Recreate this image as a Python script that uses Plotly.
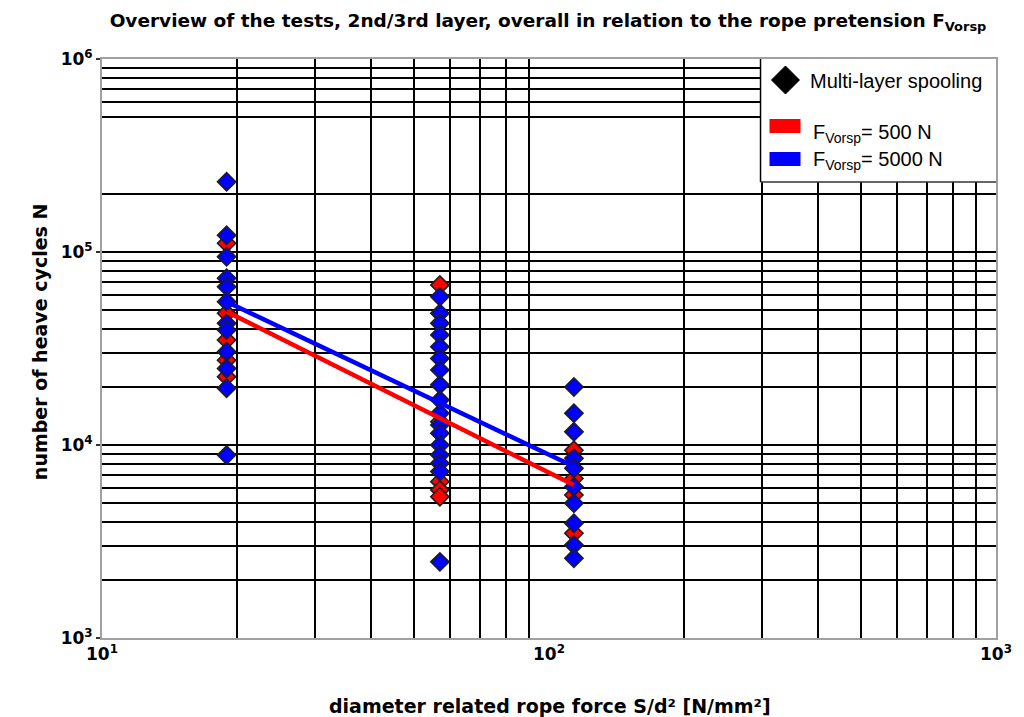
import plotly.graph_objects as go

# Diameter related rope force S/d^2 [N/mm^2] of the three load levels
sd2_levels = [19.0, 57.0, 113.7]

# Heave cycles to failure, pretension 5000 N (one list per load level)
cycles_5000_low = [231000, 122000, 94600, 73100, 66000, 55200, 42700, 39400,
                   30400, 24900, 19700, 8870]
cycles_5000_mid = [58600, 48100, 42700, 37200, 32300, 28100, 24500, 20500,
                   17100, 14600, 12700, 11500, 10000, 8870, 8040, 7280, 2480]
cycles_5000_high = [20000, 14600, 11700, 8530, 7570, 6080, 4990, 3930, 3030, 2590]

# Heave cycles to failure, pretension 500 N
cycles_500_low = [111000, 48100, 35000, 27500, 22600]
cycles_500_mid = [67400, 13200, 6460, 5850, 5400]
cycles_500_high = [9400, 6710, 5510, 3490]

# Regression lines (log-log) for both pretensions
fit_sd2 = [19.0, 113.7]
fit_500 = [49100, 6200]
fit_5000 = [55200, 7730]

title_text = ("Overview of the tests, 2nd/3rd layer, overall in relation to the "
              "rope pretension F<sub>Vorsp</sub>")
x_title = "diameter related rope force S/d² [N/mm²]"
y_title = "number of heave cycles N"
x_tick_vals = [10, 100, 1000]
x_tick_text = ["10<sup>1</sup>", "10<sup>2</sup>", "10<sup>3</sup>"]
y_tick_vals = [1e3, 1e4, 1e5, 1e6]
y_tick_text = ["10<sup>3</sup>", "10<sup>4</sup>", "10<sup>5</sup>", "10<sup>6</sup>"]
legend_labels = ["Multi-layer spooling", "F<sub>Vorsp</sub>= 500 N",
                 "F<sub>Vorsp</sub>= 5000 N"]


def stack(groups):
    xs, ys = [], []
    for lvl, vals in zip(sd2_levels, groups):
        xs += [lvl] * len(vals)
        ys += vals
    return xs, ys


x500, y500 = stack([cycles_500_low, cycles_500_mid, cycles_500_high])
x5000, y5000 = stack([cycles_5000_low, cycles_5000_mid, cycles_5000_high])

RED = "#ff0000"
BLUE = "#0000ff"
marker_line = dict(color="#1e1e1e", width=1.6)

fig = go.Figure()
fig.add_trace(go.Scatter(x=x500, y=y500, mode="markers",
                         marker=dict(symbol="diamond", size=14, color=RED, line=marker_line)))
fig.add_trace(go.Scatter(x=x5000, y=y5000, mode="markers",
                         marker=dict(symbol="diamond", size=14, color=BLUE, line=marker_line)))
fig.add_trace(go.Scatter(x=fit_sd2, y=fit_500, mode="lines",
                         line=dict(color=RED, width=4.5)))
fig.add_trace(go.Scatter(x=fit_sd2, y=fit_5000, mode="lines",
                         line=dict(color=BLUE, width=4.5)))

# grid lines: every decade step, a few are left out
x_grid = [k * 10 ** d for d in (1, 2) for k in range(2, 10)]
y_grid = [k * 10 ** d for d in (3, 4, 5) for k in range(1, 10)
          if not (d == 5 and k in (3, 4)) and not (d == 3 and k == 1)]

W, H = 1024, 717
ML, MR, MT, MB = 102, 26, 59, 79
PW, PH = W - ML - MR, H - MT - MB


def px(x):
    return (x - ML) / PW


def py(y):
    return (H - MB - y) / PH


bold = dict(family="DejaVu Sans", size=17, color="black", weight="bold")

fig.update_layout(
    width=W, height=H,
    margin=dict(l=ML, r=MR, t=MT, b=MB),
    paper_bgcolor="white", plot_bgcolor="white",
    showlegend=False,
    title=dict(text=title_text, x=px(549), xref="paper", xanchor="center",
               y=1 - 21 / H, yanchor="middle",
               font=dict(family="DejaVu Sans", size=18.5, color="black", weight="bold")),
)

fig.update_xaxes(type="log", range=[1, 3], tickmode="array",
                 tickvals=x_tick_vals, ticktext=x_tick_text, tickfont=bold,
                 showgrid=False, zeroline=False,
                 showline=True, mirror=True, linecolor="#a0a0a0", linewidth=2,
                 ticks="", minor=dict(tickmode="array", tickvals=x_grid, showgrid=True,
                                      gridcolor="black", gridwidth=1.6, ticks=""))
fig.update_yaxes(type="log", range=[3, 6], tickmode="array",
                 tickvals=y_tick_vals, ticktext=y_tick_text, tickfont=bold,
                 showgrid=False, zeroline=False,
                 showline=True, mirror=True, linecolor="#a0a0a0", linewidth=2,
                 ticks="outside", ticklen=4, tickwidth=1.5, tickcolor="#333",
                 minor=dict(tickmode="array", tickvals=y_grid, showgrid=True,
                            gridcolor="black", gridwidth=2.4, ticks=""))

title_font = dict(family="DejaVu Sans", size=19, color="black", weight="bold")
annotations = [
    dict(text=x_title, xref="paper", yref="paper", x=px(551), y=py(706),
         xanchor="center", yanchor="middle", showarrow=False, font=title_font),
    dict(text=y_title, xref="paper", yref="paper", x=px(40), y=py(342),
         xanchor="center", yanchor="middle", textangle=-90, showarrow=False,
         font=title_font),
]

legend_font = dict(family="Liberation Sans", size=20, color="black")
annotations += [
    dict(text=legend_labels[0], xref="paper", yref="paper", x=px(810), y=py(81),
         xanchor="left", yanchor="middle", showarrow=False, font=legend_font),
    dict(text=legend_labels[1], xref="paper", yref="paper", x=px(813), y=py(133),
         xanchor="left", yanchor="middle", showarrow=False, font=legend_font),
    dict(text=legend_labels[2], xref="paper", yref="paper", x=px(813), y=py(161),
         xanchor="left", yanchor="middle", showarrow=False, font=legend_font),
]
fig.update_layout(annotations=annotations)

shapes = [
    # legend box
    dict(type="rect", xref="paper", yref="paper", x0=px(762), x1=1, y0=py(182), y1=1,
         fillcolor="white", line=dict(width=0), layer="above"),
    dict(type="line", xref="paper", yref="paper", x0=px(762), x1=px(762), y0=py(182), y1=1,
         line=dict(color="black", width=1.5), layer="above"),
    dict(type="line", xref="paper", yref="paper", x0=px(762), x1=1, y0=py(182), y1=py(182),
         line=dict(color="#333", width=1.5), layer="above"),
    # legend symbols
    dict(type="path", xref="paper", yref="paper", xsizemode="pixel", ysizemode="pixel",
         xanchor=px(787), yanchor=py(80), path="M -14 0 L 0 14 L 14 0 L 0 -14 Z",
         fillcolor="black", line=dict(color="black", width=1), layer="above"),
    dict(type="rect", xref="paper", yref="paper", xsizemode="pixel", ysizemode="pixel",
         xanchor=px(771), yanchor=py(126), x0=0, x1=31, y0=-7, y1=7,
         fillcolor=RED, line=dict(width=0), layer="above"),
    dict(type="rect", xref="paper", yref="paper", xsizemode="pixel", ysizemode="pixel",
         xanchor=px(771), yanchor=py(159), x0=0, x1=31, y0=-7, y1=7,
         fillcolor=BLUE, line=dict(width=0), layer="above"),
]
fig.update_layout(shapes=shapes)

fig.write_html("out.html")
